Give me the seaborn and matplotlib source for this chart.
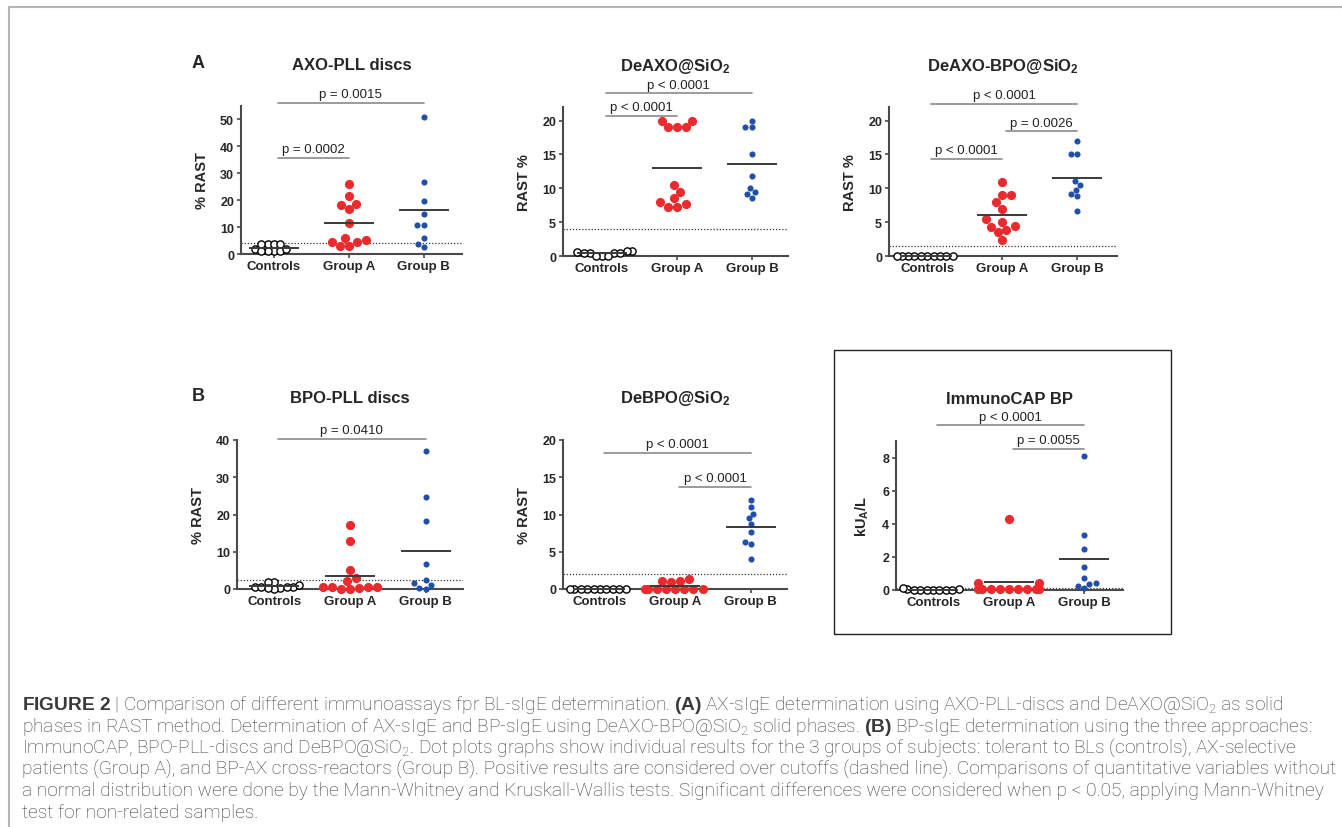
import types
import warnings
import pandas as pd
import matplotlib
matplotlib.use("Agg")
import matplotlib.pyplot as plt
import seaborn as sns
from matplotlib.patches import Rectangle
from matplotlib.lines import Line2D

warnings.filterwarnings("ignore")

groups = ["Controls", "Group A", "Group B"]

# AXO-PLL discs (% RAST)
axo_pll_controls = [3.7, 2.0, 1.2, 3.7, 1.2, 3.7, 1.2, 2.0, 3.7, 1.2]
axo_pll_a = [26.1, 21.5, 18.7, 18.2, 16.9, 11.4, 5.8, 5.1, 4.6, 4.6, 3.0, 3.0]
axo_pll_b = [51.0, 26.7, 19.8, 14.9, 10.8, 10.8, 5.8, 3.6, 2.7]

# DeAXO@SiO2 (RAST %)
deaxo_controls = [0.5, 0.05, 0.5, 0.05, 0.7, 0.05, 0.7, 0.5, 0.5, 0.6]
deaxo_a = [20.0, 20.0, 19.0, 19.0, 19.0, 10.5, 9.5, 8.5, 8.0, 7.7, 7.3, 7.3]
deaxo_b = [20.0, 19.0, 19.0, 15.0, 11.8, 10.0, 9.4, 9.2, 8.6]

# DeAXO-BPO@SiO2 (RAST %)
deaxo_bpo_controls = [0.0, 0.0, 0.0, 0.0, 0.0, 0.0, 0.0, 0.0, 0.0, 0.0]
deaxo_bpo_a = [10.9, 9.0, 9.0, 7.9, 7.0, 5.4, 5.0, 4.4, 4.3, 3.9, 3.5, 2.4]
deaxo_bpo_b = [17.0, 15.0, 15.0, 11.1, 10.5, 9.8, 9.1, 8.9, 6.7]

# BPO-PLL discs (% RAST)
bpo_pll_controls = [0.6, 0.6, 0.4, 1.8, 0.1, 2.0, 0.2, 0.6, 1.0, 0.5]
bpo_pll_a = [17.2, 12.8, 5.0, 2.9, 2.2, 0.6, 0.6, 0.6, 0.6, 0.2, 0.0, 0.0]
bpo_pll_b = [37.1, 24.6, 18.2, 6.8, 2.5, 1.5, 1.2, 0.4, 0.1]

# DeBPO@SiO2 (% RAST)
debpo_controls = [0.0, 0.0, 0.0, 0.0, 0.0, 0.0, 0.0, 0.0, 0.0, 0.0]
debpo_a = [1.3, 1.1, 1.1, 1.0, 0.0, 0.0, 0.0, 0.0, 0.0, 0.0, 0.0, 0.0]
debpo_b = [12.0, 11.0, 10.1, 9.5, 8.7, 7.6, 6.3, 6.0, 4.0]

# ImmunoCAP BP (kUA/L)
immunocap_controls = [0.0, 0.0, 0.0, 0.05, 0.0, 0.1, 0.05, 0.0, 0.0, 0.0]
immunocap_a = [4.3, 0.45, 0.45, 0.05, 0.05, 0.05, 0.05, 0.05, 0.05, 0.05, 0.05, 0.05]
immunocap_b = [8.1, 3.3, 2.5, 1.4, 0.7, 0.4, 0.35, 0.25, 0.1]

titles = ["AXO-PLL discs", r"DeAXO@SiO$_\mathbf{2}$", r"DeAXO-BPO@SiO$_\mathbf{2}$",
          "BPO-PLL discs", r"DeBPO@SiO$_\mathbf{2}$", "ImmunoCAP BP"]
ylabels = ["% RAST", "RAST %", "RAST %", "% RAST", "% RAST", r"kU$_\mathbf{A}$/L"]
yticks = [[0, 10, 20, 30, 40, 50], [0, 5, 10, 15, 20], [0, 5, 10, 15, 20],
          [0, 10, 20, 30, 40], [0, 5, 10, 15, 20], [0, 2, 4, 6, 8]]
cutoffs = [4.2, 4.0, 1.5, 2.3, 2.0, 0.1]

# comparisons: (group i, group j, label, height in data units)
p_values = [
    [(0, 2, "p = 0.0015", 56.3), (0, 1, "p = 0.0002", 35.8)],
    [(0, 2, "p < 0.0001", 24.0), (0, 1, "p < 0.0001", 20.7)],
    [(0, 2, "p < 0.0001", 22.5), (1, 2, "p = 0.0026", 18.4), (0, 1, "p < 0.0001", 14.3)],
    [(0, 2, "p = 0.0410", 40.3)],
    [(0, 2, "p < 0.0001", 18.3), (1, 2, "p < 0.0001", 13.7)],
    [(0, 2, "p < 0.0001", 9.94), (1, 2, "p = 0.0055", 8.5)],
]

panels = [
    (axo_pll_controls, axo_pll_a, axo_pll_b),
    (deaxo_controls, deaxo_a, deaxo_b),
    (deaxo_bpo_controls, deaxo_bpo_a, deaxo_bpo_b),
    (bpo_pll_controls, bpo_pll_a, bpo_pll_b),
    (debpo_controls, debpo_a, debpo_b),
    (immunocap_controls, immunocap_a, immunocap_b),
]

caption_lines = [
    r"$\bf{FIGURE\ 2}$ | Comparison of different immunoassays fpr BL-sIgE determination. $\bf{(A)}$ AX-sIgE determination using AXO-PLL-discs and DeAXO@SiO$_2$ as solid",
    r"phases in RAST method. Determination of AX-sIgE and BP-sIgE using DeAXO-BPO@SiO$_2$ solid phases. $\bf{(B)}$ BP-sIgE determination using the three approaches:",
    r"ImmunoCAP, BPO-PLL-discs and DeBPO@SiO$_2$. Dot plots graphs show individual results for the 3 groups of subjects: tolerant to BLs (controls), AX-selective",
    "patients (Group A), and BP-AX cross-reactors (Group B). Positive results are considered over cutoffs (dashed line). Comparisons of quantitative variables without",
    "a normal distribution were done by the Mann-Whitney and Kruskall-Wallis tests. Significant differences were considered when p < 0.05, applying Mann-Whitney",
    "test for non-related samples.",
]

# layout in pixels: left, top, right, bottom of each plot area
W, H = 1342, 828
boxes = [(241, 107, 462, 255), (563, 108, 788, 257), (889, 108, 1117, 257),
         (237, 441, 463, 590), (563, 441, 787, 590), (896, 442, 1123, 591)]
ylims = [(0, 55), (0, 22), (0, 22), (0, 40), (0, 20), (0, 9)]
xlims = [(-0.44, 2.51), (-0.52, 2.48), (-0.51, 2.53), (-0.49, 2.49), (-0.49, 2.48), (-0.49, 2.51)]

red = "#ec2a2e"
blue = "#1f4fa6"
axis_col = "#4a4a4a"

# (face colour, edge colour, edge width, size used for the swarm layout, drawn size)
dot_styles = [("white", "black", 1.0, 3.4, 5.2),
              (red, red, 0.0, 6.2, 6.6),
              (blue, blue, 0.0, 4.5, 4.4)]

sns.set_style("ticks")
plt.rcParams["font.family"] = ["Liberation Sans", "DejaVu Sans"]
plt.rcParams["mathtext.fontset"] = "custom"
plt.rcParams["mathtext.rm"] = "Roboto:light"
plt.rcParams["mathtext.bf"] = "Liberation Sans:bold"
plt.rcParams["mathtext.it"] = "Liberation Sans:italic"

fig = plt.figure(figsize=(W / 100, H / 100), dpi=100)
swarms = []

for k, (vals, box) in enumerate(zip(panels, boxes)):
    l, t, r, b = box
    ax = fig.add_axes([l / W, 1 - b / H, (r - l) / W, (b - t) / H])
    df = pd.concat([pd.DataFrame({"group": g, "value": v}) for g, v in zip(groups, vals)])

    for g, (fc, ec, lw, s_layout, s_draw) in zip(groups, dot_styles):
        n_before = len(ax.collections)
        sns.swarmplot(data=df[df.group == g], x="group", y="value", order=groups,
                      color=fc, edgecolor=ec, linewidth=lw, size=s_layout, ax=ax)
        for coll in ax.collections[n_before:]:
            coll.set_clip_on(False)
            coll.set_zorder(3)
            swarms.append((coll, s_draw))

    # group means
    sns.pointplot(data=df, x="group", y="value", order=groups, estimator="mean",
                  errorbar=None, color="#3a3a3a", marker="_", markersize=36,
                  markeredgewidth=1.4, linestyle="none", ax=ax)
    for ln in ax.lines:
        ln.set_zorder(4)

    ax.axhline(cutoffs[k], ls=(0, (1, 1.5)), color="#333333", lw=0.9, zorder=1)

    for i, j, label, y in p_values[k]:
        ax.plot([i + 0.05, j], [y, y], color="#8a8a8a", lw=1.2, clip_on=False)
        ax.annotate(label, xy=((i + 0.05 + j) / 2, y), xytext=(0, 2),
                    textcoords="offset points", ha="center", va="bottom",
                    fontsize=9.5, color="#222222", annotation_clip=False)

    ax.set_xlim(*xlims[k])
    ax.set_ylim(*ylims[k])
    ax.set_xticks(range(len(groups)))
    ax.set_xticklabels(groups, fontweight="bold", fontsize=9.5)
    ax.set_yticks(yticks[k])
    ax.set_yticklabels([str(v) for v in yticks[k]], fontweight="bold", fontsize=9)
    ax.set_xlabel("")
    ax.set_ylabel(ylabels[k], fontweight="bold", fontsize=10.5, labelpad=8)
    ax.set_title(titles[k], fontweight="bold", fontsize=12, pad=27)
    ax.tick_params(axis="y", length=3, width=1.2, pad=2, color=axis_col)
    ax.tick_params(axis="x", length=3, width=1.2, pad=1, color=axis_col)
    for side in ["top", "right"]:
        ax.spines[side].set_visible(False)
    for side in ["left", "bottom"]:
        ax.spines[side].set_color(axis_col)
        ax.spines[side].set_linewidth(1.5)
    ax.patch.set_alpha(0)

fig.text(198 / W, 1 - 63 / H, "A", fontsize=13, fontweight="bold", ha="center", va="center")
fig.text(198 / W, 1 - 397 / H, "B", fontsize=13, fontweight="bold", ha="center", va="center")

# box around the ImmunoCAP panel
fig.add_artist(Rectangle((834 / W, 1 - 635 / H), (1171 - 834) / W, (635 - 351) / H,
                         transform=fig.transFigure, fill=False, edgecolor="#222222", lw=1.0))
# page frame
fig.add_artist(Line2D([9 / W, 1], [1 - 8 / H, 1 - 8 / H], transform=fig.transFigure,
                      color="#b5b5b5", lw=1.5))
fig.add_artist(Line2D([9 / W, 9 / W], [0, 1 - 8 / H], transform=fig.transFigure,
                      color="#b5b5b5", lw=1.5))

for n, line in enumerate(caption_lines):
    fig.text(22 / W, 1 - (705 + n * 21.6) / H, line, fontsize=13.8, color="#3a3a3a",
             family=["Roboto", "Liberation Sans"], fontweight="light",
             ha="left", va="center")

# lay the swarms out with a smaller dot, then draw them with the larger,
# overlapping dots of the original dot plots
fig.canvas.draw()
for coll, s_draw in swarms:
    coll.draw = types.MethodType(type(coll).draw, coll)
    coll.set_sizes([s_draw ** 2])

fig.savefig("out.png", dpi=100)
